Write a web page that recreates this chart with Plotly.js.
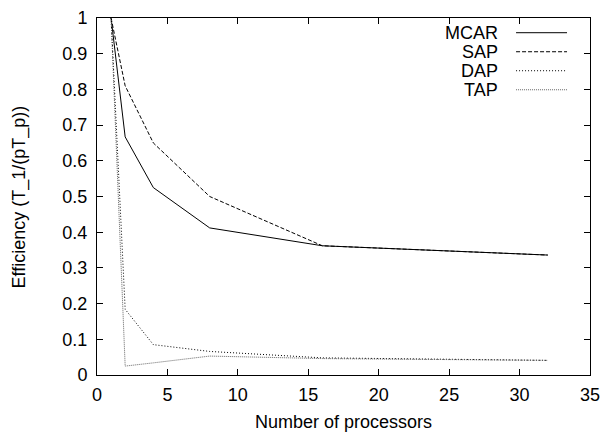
<!DOCTYPE html>
<html>
<head>
<meta charset="utf-8">
<script src="https://cdn.plot.ly/plotly-3.0.1.min.js"></script>
<style>html,body{margin:0;padding:0;background:#fff;}#chart{width:605px;height:432px;}</style>
</head>
<body>
<div id="chart"></div>
<script>
const processors = [1, 2, 4, 8, 16, 32];
const mcar = [1, 0.667, 0.525, 0.412, 0.362, 0.336];
const sap  = [1, 0.81, 0.65, 0.50, 0.362, 0.336];
const dap  = [1, 0.184, 0.085, 0.066, 0.048, 0.041];
const tap  = [1, 0.025, 0.034, 0.053, 0.046, 0.041];
const seriesNames = ["MCAR", "SAP", "DAP", "TAP"];
const xTicks = [0, 5, 10, 15, 20, 25, 30, 35];
const yTicks = [0, 0.1, 0.2, 0.3, 0.4, 0.5, 0.6, 0.7, 0.8, 0.9, 1];
const xTitle = "Number of processors";
const yTitle = "Efficiency (T_1/(pT_p))";

const styles = [
  {color: "#000000", dash: "solid", width: 1},
  {color: "#000000", dash: "4px,2px", width: 1},
  {color: "#000000", dash: "1px,2px", width: 1},
  {color: "#666666", dash: "1px,1px", width: 1}
];
const values = [mcar, sap, dap, tap];

const traces = values.map((v, i) => ({
  x: processors, y: v, type: "scatter", mode: "lines",
  name: seriesNames[i], line: styles[i], showlegend: false
}));

const font = {family: "Liberation Sans, Arial, Helvetica, sans-serif", size: 18, color: "#000"};

const legY = [0.9588, 0.9055, 0.8523, 0.799];
const annotations = seriesNames.map((n, i) => ({
  xref: "paper", yref: "paper", x: 0.8176, y: legY[i],
  xanchor: "right", yanchor: "middle", text: n, showarrow: false, font: font
}));
annotations.push({
  xref: "paper", yref: "paper", x: 0.5, y: -0.1304, xanchor: "center", yanchor: "middle",
  text: xTitle, showarrow: false, font: font
});
annotations.push({
  xref: "paper", yref: "paper", x: -0.1562, y: 0.5, xanchor: "center", yanchor: "middle",
  text: yTitle, textangle: -90, showarrow: false, font: font
});
const shapes = seriesNames.map((n, i) => ({
  type: "line", xref: "paper", yref: "paper",
  x0: 0.850, x1: 0.9534, y0: legY[i], y1: legY[i], line: styles[i]
}));

const axisCommon = {
  showgrid: false, zeroline: false, showline: true, linecolor: "#000", linewidth: 1,
  mirror: "allticks", ticks: "inside", ticklen: 6, tickcolor: "#000", tickwidth: 1,
  tickfont: font
};

const layout = {
  width: 605, height: 432,
  margin: {l: 97, r: 15, t: 18, b: 57},
  paper_bgcolor: "#fff", plot_bgcolor: "#fff",
  font: font,
  showlegend: false,
  xaxis: Object.assign({}, axisCommon, {
    range: [0, 35], tickmode: "array", tickvals: xTicks, ticktext: xTicks.map(String),
    ticklabelstandoff: 3
  }),
  yaxis: Object.assign({}, axisCommon, {
    range: [0, 1], tickmode: "array", tickvals: yTicks, ticktext: yTicks.map(String),
    ticklabelstandoff: 5
  }),
  annotations: annotations,
  shapes: shapes
};

Plotly.newPlot("chart", traces, layout, {displayModeBar: false, staticPlot: true});
</script>
</body>
</html>
